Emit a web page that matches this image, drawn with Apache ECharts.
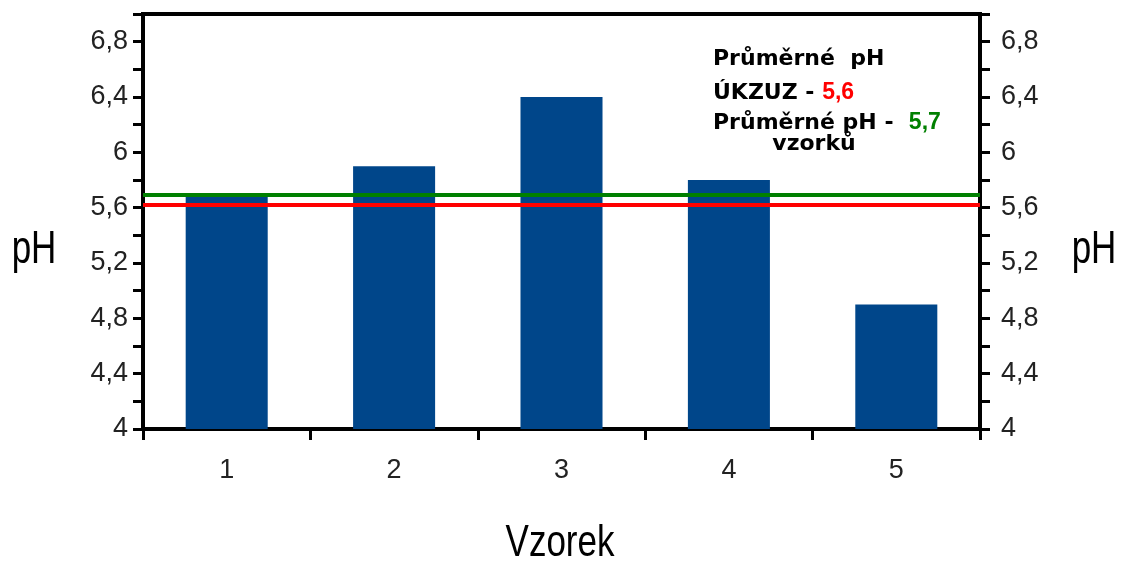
<!DOCTYPE html>
<html>
<head>
<meta charset="utf-8">
<script src="https://cdn.jsdelivr.net/npm/echarts@6/dist/echarts.min.js"></script>
<style>
html,body{margin:0;padding:0;background:#fff;}
#chart{width:1122px;height:562px;}
</style>
</head>
<body>
<div id="chart"></div>
<script>
// Data
var categories = ['1', '2', '3', '4', '5'];
var phValues = [5.7, 5.9, 6.4, 5.8, 4.9];
var ukzuzMean = 5.62;     // red line (labelled 5,6)
var sampleMean = 5.69;    // green line (labelled 5,7)
var yTickLabels = ['4', '4,4', '4,8', '5,2', '5,6', '6', '6,4', '6,8'];
var axisName = 'pH';
var xAxisName = 'Vzorek';
var noteLine1 = 'Průměrné  pH';
var noteLine2 = 'ÚKZUZ - ';
var noteValue2 = '5,6';
var noteLine3 = 'Průměrné pH -  ';
var noteValue3 = '5,7';
var noteLine4 = 'vzorků';

function yLabel(v) {
  var idx = Math.round((v - 4) / 0.2);
  if (idx % 2 !== 0) return '';
  var k = idx / 2;
  return k < yTickLabels.length ? yTickLabels[k] : '';
}

var chart = echarts.init(document.getElementById('chart'));

function yAxisCfg(pos, margin) {
  return {
    type: 'value',
    position: pos,
    min: 4,
    max: 7,
    interval: 0.2,
    axisLine: { show: true, lineStyle: { color: '#000', width: 4 } },
    axisTick: { show: true, inside: false, length: 10, lineStyle: { color: '#000', width: 3 } },
    axisLabel: {
      show: true, margin: margin, formatter: yLabel,
      color: '#222', fontSize: 27, fontFamily: 'Arial, "Liberation Sans", sans-serif',
      showMinLabel: true, showMaxLabel: true
    },
    splitLine: { show: false }
  };
}

var option = {
  backgroundColor: '#fff',
  animation: false,
  grid: {
    left: 143, right: 142, top: 14, bottom: 133,
    show: true, borderColor: '#000', borderWidth: 4,
    outerBoundsMode: 'none'
  },
  xAxis: {
    type: 'category',
    data: categories,
    boundaryGap: true,
    axisLine: { show: true, lineStyle: { color: '#000', width: 4 } },
    axisTick: { show: true, alignWithLabel: false, length: 11, lineStyle: { color: '#000', width: 3 } },
    axisLabel: { margin: 28, color: '#222', fontSize: 27, fontFamily: 'Arial, "Liberation Sans", sans-serif' },
    splitLine: { show: false }
  },
  yAxis: [yAxisCfg('left', 15), yAxisCfg('right', 21)],
  series: [{
    type: 'bar',
    data: phValues,
    barWidth: '49%',
    itemStyle: { color: '#00468a' },
    markLine: {
      silent: true,
      symbol: 'none',
      label: { show: false },
      data: [
        { yAxis: ukzuzMean, lineStyle: { color: '#ff0000', width: 4, type: 'solid' } },
        { yAxis: sampleMean, lineStyle: { color: '#008000', width: 4, type: 'solid' } }
      ]
    }
  }],
  graphic: [
    { type: 'text', x: 34, y: 250, scaleY: 1.32,
      style: { text: axisName, x: 0, y: 0, align: 'center', verticalAlign: 'middle',
               font: '35px Arial, "Liberation Sans", sans-serif', fill: '#000' } },
    { type: 'text', x: 1094, y: 250, scaleY: 1.32,
      style: { text: axisName, x: 0, y: 0, align: 'center', verticalAlign: 'middle',
               font: '35px Arial, "Liberation Sans", sans-serif', fill: '#000' } },
    { type: 'text', x: 560, y: 544, scaleY: 1.28,
      style: { text: xAxisName, x: 0, y: 0, align: 'center', verticalAlign: 'middle',
               font: '35px Arial, "Liberation Sans", sans-serif', fill: '#000' } },
    { type: 'text', x: 713, y: 59,
      style: { text: noteLine1, x: 0, y: 0, align: 'left', verticalAlign: 'middle',
               font: 'bold 22px "DejaVu Sans", sans-serif', fill: '#000' } },
    { type: 'text', x: 713, y: 93,
      style: { text: noteLine2 + '{r|' + noteValue2 + '}', x: 0, y: 0, align: 'left', verticalAlign: 'middle',
               font: 'bold 22px "DejaVu Sans", sans-serif', fill: '#000',
               rich: { r: { fill: '#ff0000', font: 'bold 23px Arial, "Liberation Sans", sans-serif' } } } },
    { type: 'text', x: 713, y: 123,
      style: { text: noteLine3 + '{g|' + noteValue3 + '}', x: 0, y: 0, align: 'left', verticalAlign: 'middle',
               font: 'bold 22px "DejaVu Sans", sans-serif', fill: '#000',
               rich: { g: { fill: '#008000', font: 'bold 23px Arial, "Liberation Sans", sans-serif' } } } },
    { type: 'text', x: 814, y: 144,
      style: { text: noteLine4, x: 0, y: 0, align: 'center', verticalAlign: 'middle',
               font: 'bold 22px "DejaVu Sans", sans-serif', fill: '#000' } }
  ]
};
chart.setOption(option);
</script>
</body>
</html>
